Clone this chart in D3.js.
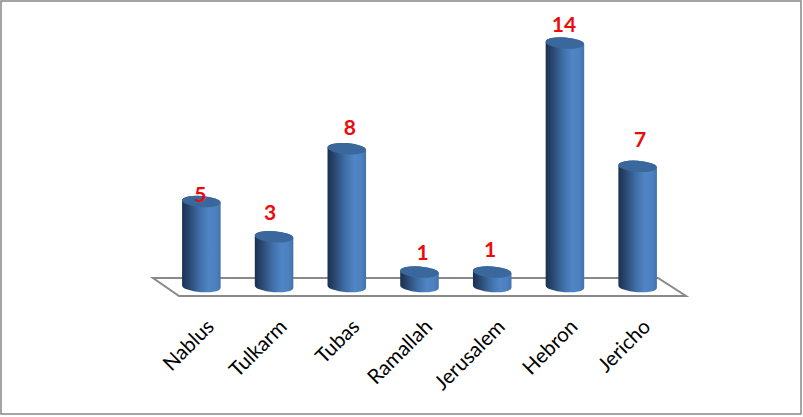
<!DOCTYPE html>
<html><head><meta charset="utf-8">
<script src="https://cdn.jsdelivr.net/npm/d3@7/dist/d3.min.js"></script>
<style>html,body{margin:0;padding:0;background:#fff}svg{display:block}</style>
</head><body><svg id="c" width="803" height="417"></svg>
<script>
const categories = ["Nablus","Tulkarm","Tubas","Ramallah","Jerusalem","Hebron","Jericho"];
const values = [5,3,8,1,1,14,7];
// hand-placed label offsets from each bar top, as in the original chart
const labelDx = [-1,-4,3,3,-2,-1,2.5];
const labelDy = [0,-17,-14,-12,-15,-11,-19];

const svg = d3.select("#c");
svg.append("rect").attr("x",1).attr("y",1).attr("width",800).attr("height",413)
  .attr("fill","#fff").attr("stroke","#868686").attr("stroke-width",1.5);

const defs = svg.append("defs");
const g = defs.append("linearGradient").attr("id","side");
[[0,"#1c3050"],[0.18,"#29476f"],[0.45,"#3f6ea6"],[0.7,"#5085c6"],[0.88,"#4c80bf"],[1,"#4272ad"]]
  .forEach(([o,c])=>g.append("stop").attr("offset",o).attr("stop-color",c));

const x = d3.scaleBand().domain(categories).range([165,674]).paddingInner(0.47).paddingOuter(0.235);
const y = d3.scaleLinear().domain([0,14]).range([289.6,43]);
const rx = x.bandwidth()/2, ry = 5.6, tilt = 4, baseY = y(0)-3;

// floor
const floor = [[153,278],[658,278],[686,296],[179,296]];
svg.append("path").attr("d",d3.line()(floor)+"Z").attr("fill","#fff")
  .attr("stroke","#898989").attr("stroke-width",2);

const bars = svg.append("g").selectAll("g").data(categories).join("g")
  .attr("transform",d=>`translate(${x(d)+rx},0)`);

function sidePath(top){
  const a = tilt*Math.PI/180, dy = rx*Math.sin(a);
  return `M${-rx},${top-dy}L${-rx},${baseY-dy}A${rx},${ry} ${tilt} 0 0 ${rx},${baseY+dy}L${rx},${top+dy}A${rx},${ry} ${tilt} 0 0 ${-rx},${top-dy}Z`;
}
bars.append("path").attr("d",(d,i)=>sidePath(y(values[i]))).attr("fill","url(#side)");
bars.append("ellipse").attr("rx",rx).attr("ry",ry).attr("fill","#3a679c")
  .attr("transform",(d,i)=>`translate(0,${y(values[i])}) rotate(${tilt})`);

// value labels
svg.append("g").selectAll("text").data(categories).join("text")
  .attr("x",(d,i)=>x(d)+x.bandwidth()/2+labelDx[i])
  .attr("y",(d,i)=>y(values[i])+labelDy[i])
  .attr("text-anchor","middle")
  .attr("font-family","Lato, 'Open Sans', sans-serif")
  .attr("font-weight",700).attr("font-size",21).attr("fill","#ee0a0a")
  .text((d,i)=>values[i]);

// category axis
const axis = svg.append("g").attr("transform","translate(0,312)")
  .call(d3.axisBottom(x).tickSize(0).tickPadding(0));
axis.select(".domain").remove();
axis.selectAll("text")
  .attr("font-family","Lato, 'Open Sans', sans-serif")
  .attr("font-size",20.5).attr("fill","#000")
  .attr("text-anchor","end").attr("dy",0)
  .attr("transform","translate(14,16) rotate(-45)");
</script></body></html>
